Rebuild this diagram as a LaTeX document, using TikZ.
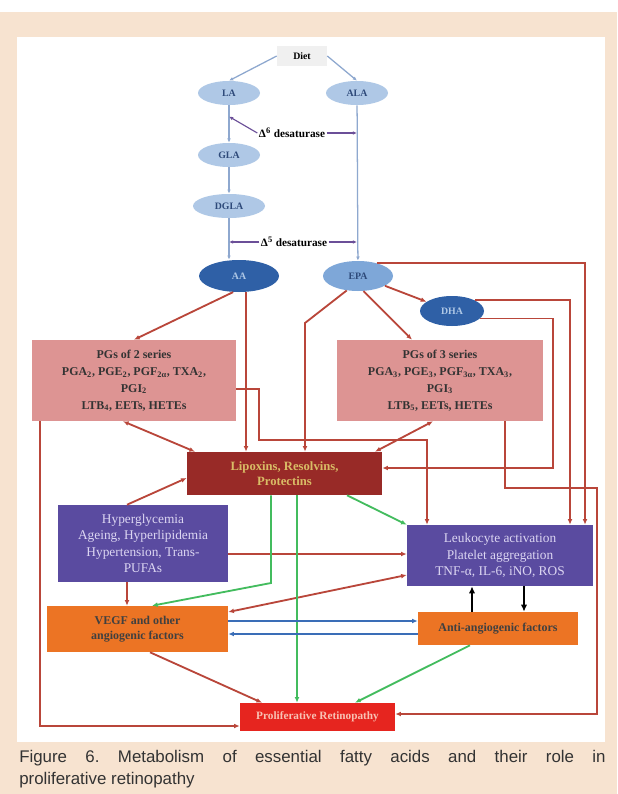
\documentclass[tikz,border=0pt]{standalone}
\usepackage{fontspec}
\setmainfont{Liberation Serif}
\newfontfamily\captionfont{Liberation Sans}
\usetikzlibrary{calc, positioning, shapes.geometric, arrows.meta}
\definecolor{beige}{HTML}{F7E3D0}
\definecolor{paleblue}{HTML}{AFC8E6}
\definecolor{midblue}{HTML}{7EA7D8}
\definecolor{deepblue}{HTML}{2F60A6}
\definecolor{navytext}{HTML}{2E4A7A}
\definecolor{rosebox}{HTML}{DD9493}
\definecolor{maroon}{HTML}{982A27}
\definecolor{straw}{HTML}{D9BC66}
\definecolor{violetbox}{HTML}{5A4BA0}
\definecolor{lavender}{HTML}{DCD6F2}
\definecolor{orangebox}{HTML}{EC7424}
\definecolor{scarlet}{HTML}{E6251F}
\definecolor{blush}{HTML}{F8C2B4}
\definecolor{rust}{HTML}{B9463A}
\definecolor{leaf}{HTML}{43BC5E}
\definecolor{steel}{HTML}{8EA8CF}
\definecolor{royal}{HTML}{3A6DB7}
\definecolor{enzline}{HTML}{6B4F98}
\definecolor{ink}{HTML}{333333}
\newdimen\pxu \pxu=0.025cm

\begin{document}
\begin{tikzpicture}[x=0.025cm, y=-0.025cm,
  acid/.style={ellipse, fill=paleblue, text=navytext, minimum width=62\pxu,
    minimum height=24\pxu, inner sep=0pt, font=\fontsize{7}{8}\selectfont\bfseries},
  acid dark/.style={acid, fill=deepblue, text=paleblue},
  acid mid/.style={acid, fill=midblue, text=navytext},
  enzyme/.style={inner sep=1pt, font=\fontsize{8}{9}\selectfont\bfseries},
  panel/.style={rectangle, inner sep=0pt, align=center},
  pgbox/.style={panel, fill=rosebox, text=black!80, minimum width=204\pxu,
    minimum height=81\pxu, font=\fontsize{8.5}{12}\selectfont\bfseries},
  feed/.style={draw=steel, line width=0.9pt, -{Latex[length=3pt,width=2.6pt]}},
  enz/.style={draw=enzline, line width=0.8pt, -{Latex[length=3pt,width=2.6pt]}},
  rustline/.style={draw=rust, line width=1.3pt, -{Latex[length=4pt,width=3.4pt]}},
  rustboth/.style={rustline, {Latex[length=4pt,width=3.4pt]}-{Latex[length=4pt,width=3.4pt]}},
  leafline/.style={draw=leaf, line width=1.3pt, -{Latex[length=4pt,width=3.4pt]}},
  pairline/.style={draw=royal, line width=1.6pt, -{Latex[length=4pt,width=3.4pt]}},
  blackline/.style={draw=black, line width=2pt, -{Latex[length=5pt,width=4.5pt]}},
  caption/.style={anchor=west, inner sep=0pt, text=ink,
    font=\captionfont\fontsize{12}{14}\selectfont}]

  \useasboundingbox (0,0) rectangle (617,794);
  \fill[beige] (0,12) rectangle (617,794);
  \fill[white] (17,37) rectangle (605,742);

  % fatty acids
  \node[panel, fill=black!6, minimum width=50\pxu, minimum height=20\pxu,
    font=\fontsize{7}{8}\selectfont\bfseries] (diet) at (302,56) {Diet};
  \node[acid] (la) at (229,93) {LA};
  \node[acid] (ala) at (357,93) {ALA};
  \node[acid] (gla) at (229,155) {GLA};
  \node[acid, minimum width=72\pxu] (dgla) at (229,206) {DGLA};
  \node[acid dark, minimum width=80\pxu, minimum height=32\pxu] (aa) at (239,276) {AA};
  \node[acid mid, minimum width=70\pxu, minimum height=30\pxu] (epa) at (358,276) {EPA};
  \node[acid dark, minimum width=64\pxu, minimum height=30\pxu] (dha) at (452,311) {DHA};
  \node[enzyme] (d6) at (292,133) {Δ\textsuperscript{6} desaturase};
  \node[enzyme] (d5) at (294,242) {Δ\textsuperscript{5} desaturase};

  % boxes
  \node[pgbox] (pg2) at (134,380.5) {PGs of 2 series\\
    PGA\textsubscript{2}, PGE\textsubscript{2}, PGF\textsubscript{2α}, TXA\textsubscript{2},\\
    PGI\textsubscript{2}\\LTB\textsubscript{4}, EETs, HETEs};
  \node[pgbox, minimum width=206\pxu] (pg3) at (440,380.5) {PGs of 3 series\\
    PGA\textsubscript{3}, PGE\textsubscript{3}, PGF\textsubscript{3α}, TXA\textsubscript{3},\\
    PGI\textsubscript{3}\\LTB\textsubscript{5}, EETs, HETEs};
  \node[panel, fill=maroon, text=straw, minimum width=195\pxu, minimum height=43\pxu,
    font=\fontsize{9}{11}\selectfont\bfseries] (lip) at (284.5,473.5)
    {Lipoxins, Resolvins,\\Protectins};
  \node[panel, fill=violetbox, text=lavender, minimum width=170\pxu, minimum height=77\pxu,
    font=\fontsize{9.5}{11.8}\selectfont] (risk) at (143,543.5)
    {Hyperglycemia\\Ageing, Hyperlipidemia\\Hypertension, Trans-\\PUFAs};
  \node[panel, fill=violetbox, text=lavender, minimum width=186\pxu, minimum height=61\pxu,
    font=\fontsize{9.5}{12}\selectfont] (leuk) at (500,555.5)
    {Leukocyte activation\\Platelet aggregation\\TNF-α, IL-6, iNO, ROS};
  \node[panel, fill=orangebox, text=black!75, minimum width=181\pxu, minimum height=46\pxu,
    font=\fontsize{8.5}{11}\selectfont\bfseries] (vegf) at (137.5,629)
    {VEGF and other\\angiogenic factors};
  \node[panel, fill=orangebox, text=black!75, minimum width=160\pxu, minimum height=33\pxu,
    font=\fontsize{8.5}{11}\selectfont\bfseries] (anti) at (498,628.5)
    {Anti-angiogenic factors};
  \node[panel, fill=scarlet, text=blush, minimum width=155\pxu, minimum height=28\pxu,
    font=\fontsize{8}{10}\selectfont\bfseries] (pr) at (317.5,717)
    {Proliferative Retinopathy};

  % metabolism
  \draw[feed] (diet.west) -- (la.north);
  \draw[feed] (diet.east) -- (ala.north);
  \draw[feed] (la) -- (gla);
  \draw[feed] (gla) -- (dgla);
  \draw[feed] (dgla.south) -- (aa.north -| dgla.south);
  \draw[feed] (ala) -- (epa);
  \draw[enz] (d6.west) -- ($(la.south)!0.3!(gla.north)$);
  \draw[enz] (d6.east) -- (d6.east -| ala.south);
  \draw[enz] (d5.west) -- (d5.west -| dgla.south);
  \draw[enz] (d5.east) -- (d5.east -| ala.south);

  % eicosanoids
  \draw[rustline] (aa.250) -- (pg2.north);
  \draw[rustline] (aa.south -| 246,0) -- (lip.north -| 246,0);
  \draw[rustline] (epa.232) -- (305,323) -- (lip.north -| 305,0);
  \draw[rustline] (epa.290) -- (pg3.north -| 412,0);
  \draw[rustline] (epa.340) -- (dha.160);
  \draw[rustline] (epa.35) -| (leuk.north -| 585,0);
  \draw[rustline] (dha.25) -| (leuk.north -| 570,0);
  \draw[rustline] (dha.345) -| (553,468) -- (lip.east |- 0,468);
  \draw[rustline] (pg2.east |- 0,389) -| (259,440) -| (leuk.north -| 427,0);
  \draw[rustboth] (pg2.south -| 123,0) -- (lip.north -| 195,0);
  \draw[rustboth] (lip.north -| 375,0) -- (pg3.south -| 433,0);
  \draw[rustline] (pg3.south -| 505,0) |- (597,488) |- (pr.east |- 0,714);
  \draw[rustline] (pg2.south -| 40,0) |- (pr.west |- 0,726);

  % risk factors
  \draw[rustline] (risk.north -| 127,0) -- (lip.west |- 0,478);
  \draw[rustline] (risk.east |- 0,554) -- (leuk.west |- 0,554);
  \draw[rustline] (risk.south -| 127,0) -- (vegf.north -| 127,0);
  \draw[rustboth] (vegf.east |- 0,612) -- (leuk.west |- 0,575);
  \draw[rustline] (vegf.south -| 150,0) -- (pr.north -| 262,0);
  \draw[leafline] (lip.south -| 271,0) -- (271,583) -- (vegf.north -| 152,0);
  \draw[leafline] (lip.south -| 297,0) -- (pr.north -| 297,0);
  \draw[leafline] (lip.south -| 347,0) -- (leuk.north west);
  \draw[leafline] (anti.south -| 470,0) -- (pr.north -| 355,0);
  \draw[pairline] (vegf.east |- 0,621) -- (anti.west |- 0,621);
  \draw[pairline] (anti.west |- 0,634) -- (vegf.east |- 0,634);
  \draw[blackline] (anti.north -| 472,0) -- (leuk.south -| 472,0);
  \draw[blackline] (leuk.south -| 524,0) -- (anti.north -| 524,0);

  % caption
  \node[caption] (cap1) at (19,758)
    {\makebox[417pt]{Figure\hfill 6.\hfill Metabolism\hfill of\hfill essential\hfill
      fatty\hfill acids\hfill and\hfill their\hfill role\hfill in}};
  \node[caption] (cap2) at (19,780) {proliferative retinopathy};
\end{tikzpicture}
\end{document}
